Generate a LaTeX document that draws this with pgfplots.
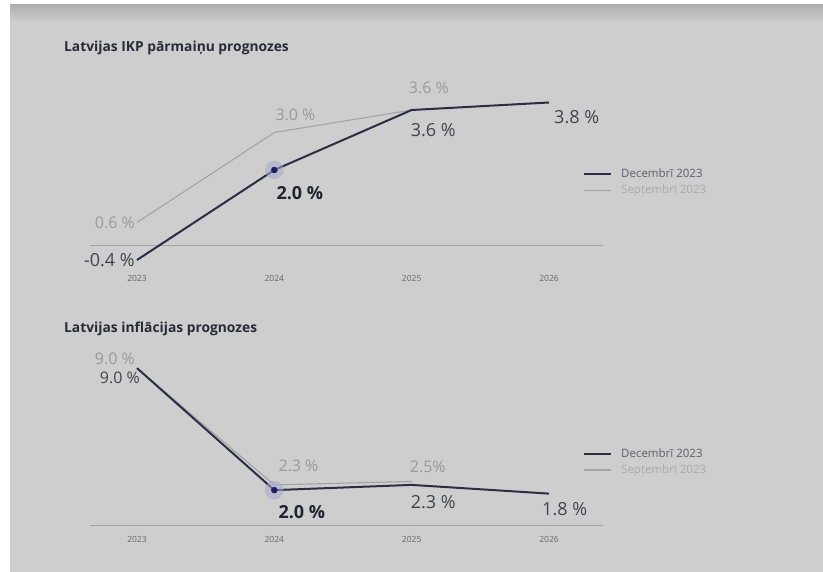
\documentclass[border=0pt]{standalone}
\usepackage{fontspec}
\setmainfont{Open Sans}
\usepackage{pgfplots}
\pgfplotsset{compat=1.18}

\definecolor{bgc}{HTML}{CECECE}
\definecolor{decl}{HTML}{2C2E45}
\definecolor{dotc}{HTML}{1C1F5E}
\definecolor{haloc}{HTML}{A6A9CC}
\definecolor{sepl}{HTML}{A3A3A3}
\definecolor{seplab}{HTML}{9A9A9A}
\definecolor{declab}{HTML}{42434E}
\definecolor{boldlab}{HTML}{22232E}
\definecolor{tickc}{HTML}{666666}
\definecolor{titlec}{HTML}{2A2A38}

\newcommand{\bigf}{\fontsize{18}{20}\selectfont}
\newcommand{\grayf}{\fontsize{16}{18}\selectfont}

\pgfplotsset{
  prog/.style={
    scale only axis, width=513pt,
    xmin=2022.658, xmax=2026.393, ymin=0,
    axis x line*=bottom, axis y line=none,
    x axis line style={draw=sepl, line width=0.8pt, -},
    xtick={2023,2024,2025,2026},
    xticklabels={2023,2024,2025,2026},
    major tick length=0pt,
    xticklabel style={font=\fontsize{8.5}{9}\selectfont, text=tickc, anchor=center},
    clip=false,
    legend style={draw=none, fill=none, font=\fontsize{11.5}{13}\selectfont,
      cells={anchor=west}, row sep=2pt, column sep=7pt, inner sep=0pt},
    legend image code/.code={\draw[##1] (0pt,0pt) -- (27pt,0pt);},
  },
  decline/.style={color=decl, line width=2pt, mark=none},
  sepline/.style={color=sepl, line width=1.1pt, mark=none},
}

\begin{document}
\begin{tikzpicture}
\useasboundingbox (0,0) rectangle (823pt,-572pt);
\fill[white] (0,0) rectangle (823pt,-572pt);
\fill[bgc] (10pt,-5pt) rectangle (823pt,-572pt);
\shade[top color=bgc!85!black, bottom color=bgc] (10pt,-5pt) rectangle (823pt,-22pt);

\node[anchor=west, font=\fontsize{13.8}{15}\selectfont\bfseries, text=titlec, inner sep=0pt]
  at (64pt,-48pt) {Latvijas IKP pārmaiņu prognozes};
\node[anchor=west, font=\fontsize{13.8}{15}\selectfont\bfseries, text=titlec, inner sep=0pt]
  at (64pt,-329pt) {Latvijas inflācijas prognozes};

% --- IKP ---
\begin{axis}[prog, at={(90pt,-245pt)}, anchor=south west,
  height=150pt, ymax=4,
  xticklabel style={yshift=-33pt},
  legend style={at={(0.961,0.42)}, anchor=west}]
\addplot[sepline, forget plot] coordinates {(2023,0.6) (2024,3.0) (2025,3.6)};
\addplot[decline] coordinates {(2023,-0.4) (2024,2.0) (2025,3.6) (2026,3.8)};
\addlegendentry{\textcolor{declab!80!bgc}{Decembrī 2023}}
\addlegendimage{sepline}
\addlegendentry{\textcolor{seplab!70!bgc}{Septembrī 2023}}
\addplot[only marks, mark=*, mark size=9pt, color=haloc, opacity=0.55, forget plot] coordinates {(2024,2.0)};
\addplot[only marks, mark=*, mark size=3pt, color=dotc, forget plot] coordinates {(2024,2.0)};
\node[anchor=east, text=seplab, font=\grayf, inner sep=0pt, xshift=-2pt] at (axis cs:2023,0.6) {0.6 \%};
\node[anchor=east, text=declab, font=\bigf, inner sep=0pt, xshift=-2pt] at (axis cs:2023,-0.4) {-0.4 \%};
\node[anchor=west, text=seplab, font=\grayf, inner sep=0pt, xshift=1pt, yshift=18pt] at (axis cs:2024,3.0) {3.0 \%};
\node[anchor=west, text=boldlab, font=\bigf\bfseries, inner sep=0pt, xshift=2pt, yshift=-23pt] at (axis cs:2024,2.0) {2.0 \%};
\node[anchor=west, text=seplab, font=\grayf, inner sep=0pt, xshift=-3pt, yshift=22pt] at (axis cs:2025,3.6) {3.6 \%};
\node[anchor=west, text=declab, font=\bigf, inner sep=0pt, xshift=-1pt, yshift=-20pt] at (axis cs:2025,3.6) {3.6 \%};
\node[anchor=west, text=declab, font=\bigf, inner sep=0pt, xshift=5pt, yshift=-15pt] at (axis cs:2026,3.8) {3.8 \%};
\end{axis}

% --- inflacija ---
\begin{axis}[prog, at={(90pt,-525pt)}, anchor=south west,
  height=156.9pt, ymax=9,
  xticklabel style={yshift=-14pt},
  legend style={at={(0.961,0.402)}, anchor=west}]
\addplot[sepline, forget plot] coordinates {(2023,9.0) (2024,2.3) (2025,2.5)};
\addplot[decline] coordinates {(2023,9.0) (2024,2.0) (2025,2.3) (2026,1.8)};
\addlegendentry{\textcolor{declab!80!bgc}{Decembrī 2023}}
\addlegendimage{sepline}
\addlegendentry{\textcolor{seplab!70!bgc}{Septembrī 2023}}
\addplot[only marks, mark=*, mark size=9pt, color=haloc, opacity=0.55, forget plot] coordinates {(2024,2.0)};
\addplot[only marks, mark=*, mark size=3pt, color=dotc, forget plot] coordinates {(2024,2.0)};
\node[anchor=east, text=seplab, font=\grayf, inner sep=0pt, xshift=-2pt, yshift=9pt] at (axis cs:2023,9.0) {9.0 \%};
\node[anchor=east, text=declab, font=\grayf, inner sep=0pt, xshift=3pt, yshift=-10pt] at (axis cs:2023,9.0) {9.0 \%};
\node[anchor=west, text=seplab, font=\grayf, inner sep=0pt, xshift=4pt, yshift=19pt] at (axis cs:2024,2.3) {2.3 \%};
\node[anchor=west, text=boldlab, font=\bigf\bfseries, inner sep=0pt, xshift=4pt, yshift=-22pt] at (axis cs:2024,2.0) {2.0 \%};
\node[anchor=west, text=seplab, font=\grayf, inner sep=0pt, xshift=-2pt, yshift=15pt] at (axis cs:2025,2.5) {2.5\%};
\node[anchor=west, text=declab, font=\bigf, inner sep=0pt, xshift=-1pt, yshift=-17pt] at (axis cs:2025,2.3) {2.3 \%};
\node[anchor=west, text=declab, font=\bigf, inner sep=0pt, xshift=-7pt, yshift=-15pt] at (axis cs:2026,1.8) {1.8 \%};
\end{axis}
\end{tikzpicture}
\end{document}
